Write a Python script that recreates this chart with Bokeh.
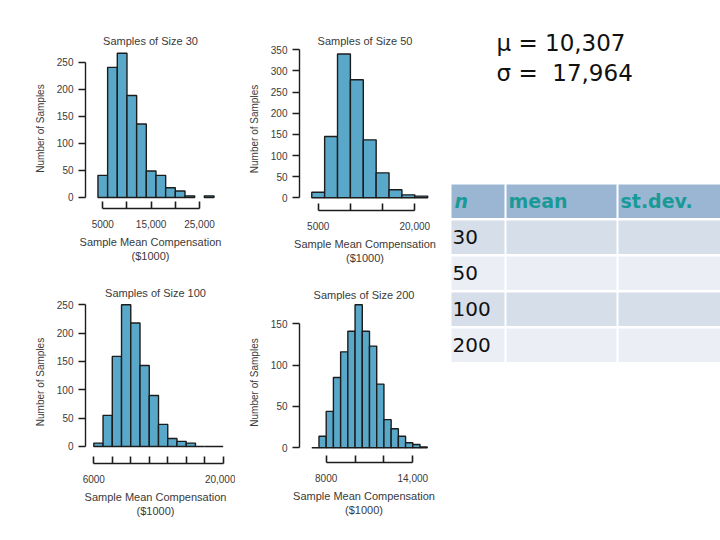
from bokeh.plotting import figure
from bokeh.layouts import row, column
from bokeh.models import Range1d, FixedTicker
from bokeh.core.properties import value
from bokeh.embed import file_html
from bokeh.resources import INLINE

# ---------------- data ----------------
edges30 = [4000, 6000, 8000, 10000, 12000, 14000, 16000, 18000, 20000, 22000, 24000, 26000, 28000]
counts30 = [41, 241, 267, 189, 136, 49, 41, 18, 12, 3, 0, 3]
xticks30 = [5000, 10000, 15000, 20000, 25000]
xlabels30 = ["5000", "", "15,000", "", "25,000"]
yticks30 = [0, 50, 100, 150, 200, 250]

edges50 = [4000, 6000, 8000, 10000, 12000, 14000, 16000, 18000, 20000, 22000]
counts50 = [13, 145, 340, 279, 137, 59, 19, 7, 4]
xticks50 = [5000, 10000, 15000, 20000]
xlabels50 = ["5000", "", "", "20,000"]
yticks50 = [0, 50, 100, 150, 200, 250, 300, 350]

edges100 = [6000, 7000, 8000, 9000, 10000, 11000, 12000, 13000, 14000, 15000, 16000, 17000, 18000, 19000, 20000]
counts100 = [6, 55, 159, 250, 218, 143, 90, 39, 14, 9, 6, 0, 0, 0]
xticks100 = [6000, 8000, 10000, 12000, 14000, 16000, 18000, 20000]
xlabels100 = ["6000", "", "", "", "", "", "", "20,000"]
yticks100 = [0, 50, 100, 150, 200, 250]

edges200 = [7000, 7500, 8000, 8500, 9000, 9500, 10000, 10500, 11000, 11500, 12000, 12500, 13000, 13500, 14000, 14500, 15000]
counts200 = [0, 14, 44, 85, 116, 141, 173, 141, 123, 77, 34, 23, 14, 6, 4, 1]
xticks200 = [8000, 10000, 12000, 14000]
xlabels200 = ["8000", "", "", "14,000"]
yticks200 = [0, 50, 100, 150]

mu = 10307
sigma = 17964
table_header = ["n", "mean", "st.dev."]
table_n = [30, 50, 100, 200]

# ---------------- style ----------------
BAR = "#5aa8c9"
EDGE = "#1c1c1c"
TXT = "#3a3a3a"
SANS = "Liberation Sans"


def make_hist(title, edges, counts, xr, yr, xticks, xlabels, yticks,
              fw, fh, ml, mt, mr, mb, tstand, skip_zero=False):
    p = figure(frame_width=fw, frame_height=fh,
               x_range=Range1d(*xr), y_range=Range1d(*yr),
               output_backend="svg", toolbar_location=None,
               min_border_left=ml, min_border_top=mt,
               min_border_right=mr, min_border_bottom=mb)
    p.outline_line_color = None
    p.xgrid.visible = False
    p.ygrid.visible = False
    lefts, rights, tops = [], [], []
    for i, c in enumerate(counts):
        if skip_zero and c == 0:
            continue
        lefts.append(edges[i]); rights.append(edges[i + 1]); tops.append(c)
    p.quad(left=lefts, right=rights, bottom=0, top=tops,
           fill_color=BAR, line_color=EDGE, line_width=1.4)

    p.title.text = title
    p.title.align = "center"
    p.title.text_font = SANS
    p.title.text_font_size = "11px"
    p.title.text_font_style = "normal"
    p.title.text_color = TXT
    p.title.standoff = tstand

    xa = p.xaxis[0]
    xa.bounds = (xticks[0], xticks[-1])
    xa.ticker = FixedTicker(ticks=xticks)
    xa.major_label_overrides = {t: l for t, l in zip(xticks, xlabels)}
    xa.major_tick_in = 7
    xa.major_tick_out = 0
    xa.minor_tick_line_color = None
    xa.axis_line_width = 1.6
    xa.major_tick_line_width = 1.6
    xa.axis_line_color = EDGE
    xa.major_tick_line_color = EDGE
    xa.major_label_text_font = SANS
    xa.major_label_text_font_size = "10px"
    xa.major_label_text_color = TXT
    xa.major_label_standoff = 11
    xa.axis_label = "Sample Mean Compensation\n($1000)"
    xa.axis_label_text_font = SANS
    xa.axis_label_text_font_size = "11px"
    xa.axis_label_text_font_style = "normal"
    xa.axis_label_text_color = TXT
    xa.axis_label_standoff = 5

    ya = p.yaxis[0]
    ya.bounds = (yticks[0], yticks[-1])
    ya.ticker = FixedTicker(ticks=yticks)
    ya.major_tick_in = 0
    ya.major_tick_out = 7
    ya.minor_tick_line_color = None
    ya.axis_line_width = 1.4
    ya.major_tick_line_width = 1.4
    ya.axis_line_color = EDGE
    ya.major_tick_line_color = EDGE
    ya.major_label_text_font = SANS
    ya.major_label_text_font_size = "10px"
    ya.major_label_text_color = TXT
    ya.major_label_standoff = 5
    ya.axis_label = "Number of Samples"
    ya.axis_label_text_font = SANS
    ya.axis_label_text_font_size = "10px"
    ya.axis_label_text_font_style = "normal"
    ya.axis_label_text_color = TXT
    ya.axis_label_standoff = 8
    return p


p1 = make_hist("Samples of Size 30", edges30, counts30, (1422, 28309), (-20.4, 275.9),
               xticks30, xlabels30, yticks30, 130, 160, 85, 48, 20, 62, 4, skip_zero=True)
p2 = make_hist("Samples of Size 50", edges50, counts50, (2096, 22438), (-30.0, 355.4),
               xticks50, xlabels50, yticks50, 131, 163, 59, 47, 20, 60, 2)
p3 = make_hist("Samples of Size 100", edges100, counts100, (5102, 20249), (-30.0, 257.6),
               xticks100, xlabels100, yticks100, 140, 163, 85, 30, 10, 77, 3)
p4 = make_hist("Samples of Size 200", edges200, counts200, (6150, 15088), (-17.8, 175.7),
               xticks200, xlabels200, yticks200, 129, 160, 64, 32, 17, 78, 4)

# ---------------- right panel: parameters and table ----------------
pr = figure(frame_width=275, frame_height=540, x_range=Range1d(445, 720),
            y_range=Range1d(540, 0), output_backend="svg", toolbar_location=None,
            min_border_left=0, min_border_right=0, min_border_top=0, min_border_bottom=0)
pr.outline_line_color = None
pr.axis.visible = False
pr.xgrid.visible = False
pr.ygrid.visible = False

pr.text(x=[496, 496], y=[42, 72],
        text=[f"\u03bc = {mu:,}", f"\u03c3 = \u00a0{sigma:,}"],
        text_font=value("DejaVu Sans"), text_font_size="23px",
        text_color="#111111", text_baseline="middle", text_align="left")

col_l = [451, 506, 618]
col_r = [504, 616, 720]
row_top0 = 184
row_pitch = 36
row_h = 33.5
header_bg = "#9ab6d3"
row_bg = ["#d5dee9", "#ebeff5"]

# header cells
pr.quad(left=col_l, right=col_r, top=[row_top0] * 3, bottom=[row_top0 + row_h] * 3,
        fill_color=header_bg, line_color=None)
# body cells
bl, br, bt, bb, bc = [], [], [], [], []
for i in range(len(table_n)):
    t = row_top0 + row_pitch * (i + 1)
    for j in range(3):
        bl.append(col_l[j]); br.append(col_r[j]); bt.append(t); bb.append(t + row_h)
        bc.append(row_bg[i % 2])
pr.quad(left=bl, right=br, top=bt, bottom=bb, fill_color=bc, line_color=None)

HEAD = "#1a9a96"
pr.text(x=[col_l[0] + 3], y=[row_top0 + row_h / 2], text=[table_header[0]],
        text_font=value("DejaVu Sans"), text_font_size="19px", text_font_style="bold italic",
        text_color=HEAD, text_baseline="middle")
pr.text(x=[c + 2 for c in col_l[1:]], y=[row_top0 + row_h / 2] * 2, text=table_header[1:],
        text_font=value("DejaVu Sans"), text_font_size="19px", text_font_style="bold",
        text_color=HEAD, text_baseline="middle")
pr.text(x=[col_l[0] + 1] * len(table_n),
        y=[row_top0 + row_pitch * (i + 1) + row_h / 2 for i in range(len(table_n))],
        text=[str(n) for n in table_n],
        text_font=value("DejaVu Sans"), text_font_size="20px",
        text_color="#111111", text_baseline="middle")

layout = row(column(p1, p3), column(p2, p4), pr)

open("out.html", "w").write(file_html(layout, INLINE))
